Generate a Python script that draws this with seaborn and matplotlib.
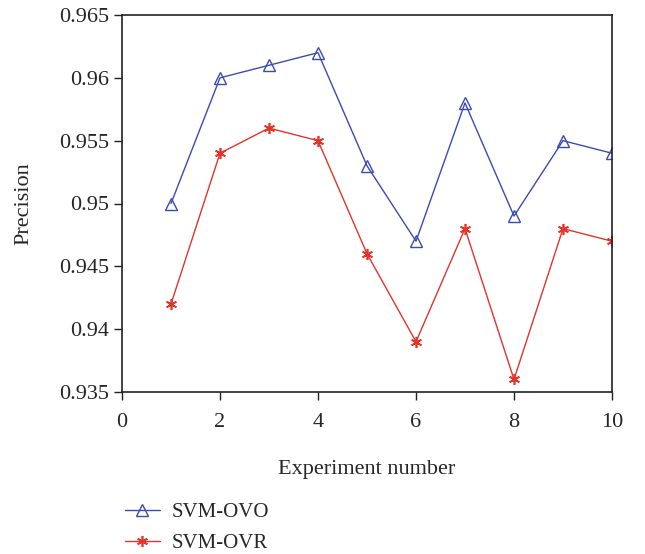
import matplotlib
matplotlib.use("Agg")
import matplotlib.pyplot as plt
import seaborn as sns
import pandas as pd
from matplotlib.ticker import FuncFormatter

experiments = [1, 2, 3, 4, 5, 6, 7, 8, 9, 10]
svm_ovo = [0.950, 0.960, 0.961, 0.962, 0.953, 0.947, 0.958, 0.949, 0.955, 0.954]
svm_ovr = [0.942, 0.954, 0.956, 0.955, 0.946, 0.939, 0.948, 0.936, 0.948, 0.947]
x_ticks = [0, 2, 4, 6, 8, 10]
y_ticks = [0.935, 0.94, 0.945, 0.95, 0.955, 0.96, 0.965]

sns.set_style("white")
plt.rcParams['font.family'] = ['Liberation Serif', 'DejaVu Serif']

fig = plt.figure(figsize=(6.45, 5.54), dpi=100)
ax = fig.add_axes([122/645, 1-392/554, (612-122)/645, (392-15)/554])

df = pd.DataFrame({"Experiment": experiments, "OVO": svm_ovo, "OVR": svm_ovr})
blue = "#3B4BB3"
red = "#E5332A"
sns.lineplot(data=df, x="Experiment", y="OVO", ax=ax, color=blue, lw=1.0,
             marker="^", markersize=9, markerfacecolor="none", markeredgecolor=blue,
             markeredgewidth=1.0, label="SVM-OVO", legend=False)
sns.lineplot(data=df, x="Experiment", y="OVR", ax=ax, color=red, lw=1.0,
             marker=(6, 2, 0), markersize=8, markeredgecolor=red,
             markeredgewidth=1.2, label="SVM-OVR", legend=False)

ax.set_xlim(0, 10)
ax.set_ylim(0.935, 0.965)
ax.set_xticks(x_ticks)
ax.set_yticks(y_ticks)
ax.yaxis.set_major_formatter(FuncFormatter(lambda v, p: f"{v:g}"))
ax.tick_params(axis='both', which='major', direction='out', length=6, width=1,
               labelsize=16, color='#222222', bottom=True, left=True, top=False, right=False)
ax.tick_params(axis='x', pad=9)
for s in ax.spines.values():
    s.set_linewidth(1.2)
    s.set_color('#222222')
ax.set_xlabel("Experiment number", fontsize=16, labelpad=20)
ax.set_ylabel("Precision", fontsize=16, labelpad=18)

handles, labels = ax.get_legend_handles_labels()
fig.legend(handles, labels, loc="center left", bbox_to_anchor=(106/645, 1-528/554),
           frameon=False, fontsize=15, handlelength=1.7, handletextpad=0.55,
           labelspacing=0.55)

fig.savefig("out.png", dpi=100)
